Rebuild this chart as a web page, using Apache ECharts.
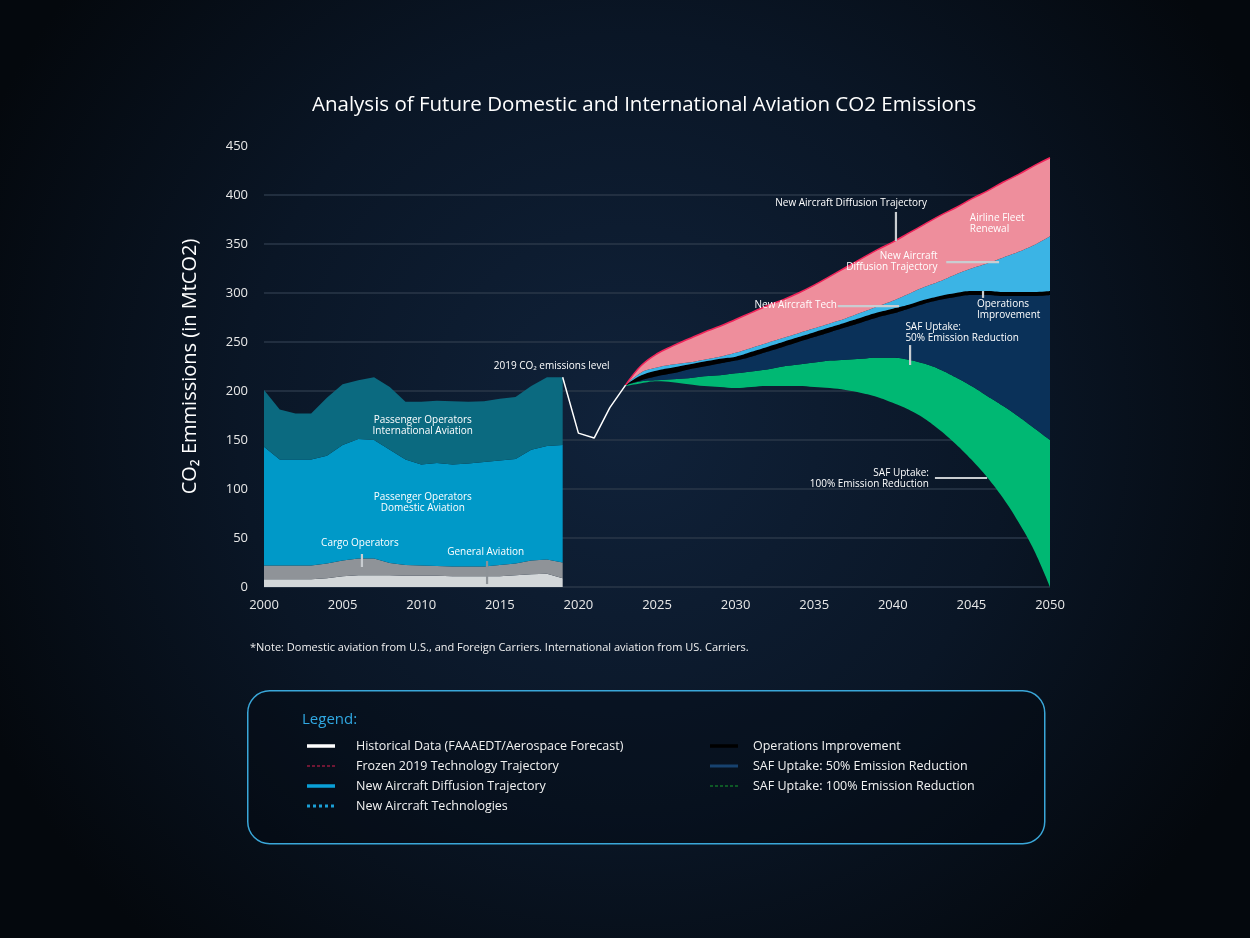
<!DOCTYPE html>
<html>
<head>
<meta charset="utf-8">
<script src="https://cdn.jsdelivr.net/npm/echarts@6/dist/echarts.min.js"></script>
<style>
html,body{margin:0;padding:0;background:#060b12;}
#chart{width:1250px;height:938px;}
</style>
</head>
<body>
<div id="chart"></div>
<script>
// ---------- DATA ----------
const histYears = [2000,2001,2002,2003,2004,2005,2006,2007,2008,2009,2010,2011,2012,2013,2014,2015,2016,2017,2018,2019];
const generalAviation = [8,8,8,8,9,11,12,12,12,11.5,11.5,11.5,11,11,11,11,12,13,13.5,9];
const cargoOperators  = [14,14,14,14,15,16,17,17,12.5,11,10.5,10,10,10,10,11.5,12,14,14.5,16];
const domesticPassenger = [121,108,108,108,110,118,122,121,115.5,107.5,103,105,104,105,106.5,106.5,106.5,113,116,120];
const internationalPassenger = [58,51,47,47,59,62,60,64,64,59,64,63.5,64.5,63,62,63,63.5,65,70,69];

const histLineYears = [2019,2020,2021,2022,2023];
const histLineValues = [214,157,152,183,206];

const fcYears = [2023,2024,2025,2026,2027,2028,2029,2030,2031,2032,2033,2034,2035,2036,2037,2038,2039,2040,2041,2042,2043,2044,2045,2046,2047,2048,2049,2050];
// upper boundaries of each forecast band (MtCO2)
const frozenTop    = [206,226,238,246,253,260,266,273,280,287,293,300,308,317,326,335,344,352,361,370,379,387,396,404,413,421,430,438];
const diffusionTop = [206,219,224,227,229,232,235,239,244,249,254,259,264,269,274,280,286,292,299,306,312,319,325,330,336,342,349,358];
const operationsTop= [206,216,221,224,227,230,233,235,240,245,250,255,260,265,270,275,280,284,288,293,297,300,302,302,301,301,301,302];
const saf50Top     = [206,211,215,218,222,225,228,231,235,240,245,250,255,260,265,270,275,279,284,289,293,296,298,298,297,297,297,298];
const saf100Top    = [206,210,211,212,213,215,216,218,220,222,225,227,229,231,232,233,234,234,232,228,222,214,205,195,185,174,162,150];
const saf100Bottom = [205,208,210,209,207,205,204,203,204,205,205,205,204,203,201,198,194,188,181,172,160,146,130,112,91,66,37,0];

const allYears = [];
for (let y = 2000; y <= 2050; y++) allYears.push(String(y));
const yTicks = [0,50,100,150,200,250,300,350,400,450];

// ---------- helpers ----------
const FONT = "'Open Sans', 'DejaVu Sans', sans-serif";
// place a series (years, values) onto the full category list
function place(years, vals){
  return allYears.map(c => { const i = years.indexOf(+c); return i >= 0 ? vals[i] : '-'; });
}
function diff(top, bottom){ return top.map((v,i)=>+(v - bottom[i]).toFixed(2)); }

const chart = echarts.init(document.getElementById('chart'), null, {renderer:'canvas'});

const histStack = (name, vals, color) => ({
  name, type:'line', stack:'hist', data: place(histYears, vals),
  symbol:'none', lineStyle:{width:0}, areaStyle:{color:color, opacity:1}, itemStyle:{color:color}, z:2, silent:true
});
const fcSmooth = 0.4;
const fcStack = (name, vals, color, extra) => Object.assign({
  name, type:'line', stack:'fc', data: place(fcYears, vals), smooth:fcSmooth,
  symbol:'none', lineStyle:{width:0}, itemStyle:{color:color},
  areaStyle:{color:color, opacity: name==='base' ? 0 : 1}, z:3, silent:true
}, extra || {});

const option = {
  backgroundColor: {
    type:'radial', x:0.5, y:0.45, r:0.75,
    colorStops:[{offset:0,color:'#10223a'},{offset:0.55,color:'#0a1626'},{offset:1,color:'#04080d'}]
  },
  animation:false,
  title:{
    text:'Analysis of Future Domestic and International Aviation CO2 Emissions',
    left:307, top:90,
    textStyle:{color:'#ffffff', fontSize:20.5, fontWeight:'normal', fontFamily:FONT}
  },
  grid:{left:264, right:200, top:146, bottom:351, containLabel:false},
  xAxis:{
    type:'category', data: allYears, boundaryGap:false,
    axisLine:{show:false}, axisTick:{show:false}, splitLine:{show:false},
    axisLabel:{color:'#e8e8e8', fontSize:13, fontFamily:FONT, margin:12, interval:4}
  },
  yAxis:{
    type:'value', min:yTicks[0], max:yTicks[yTicks.length-1], interval:50,
    name:'CO₂ Emmissions (in MtCO2)', nameLocation:'middle', nameGap:64, nameRotate:90,
    nameTextStyle:{color:'#ffffff', fontSize:20, fontFamily:FONT},
    axisLine:{show:false}, axisTick:{show:false},
    axisLabel:{color:'#e8e8e8', fontSize:13, fontFamily:FONT, margin:16},
    splitLine:{show:true, showMaxLine:false, lineStyle:{color:'#2a3748', width:1.5}}
  },
  series:[
    histStack('General Aviation', generalAviation, '#d3d7d9'),
    histStack('Cargo Operators', cargoOperators, '#8f9398'),
    histStack('Passenger Operators Domestic Aviation', domesticPassenger, '#0099c8'),
    histStack('Passenger Operators International Aviation', internationalPassenger, '#0b6a80'),
    {
      name:'Historical Data', type:'line', data: place(histLineYears, histLineValues),
      symbol:'none', lineStyle:{color:'#ffffff', width:1.5}, z:5, silent:true
    },
    fcStack('base', saf100Bottom, '#000000'),
    fcStack('SAF Uptake: 100% Emission Reduction', diff(saf100Top, saf100Bottom), '#00b873'),
    fcStack('SAF Uptake: 50% Emission Reduction', diff(saf50Top, saf100Top), '#0a3159'),
    fcStack('Operations Improvement', diff(operationsTop, saf50Top), '#000000'),
    fcStack('New Aircraft Diffusion Trajectory', diff(diffusionTop, operationsTop), '#3bb4e5'),
    fcStack('Frozen 2019 Technology Trajectory', diff(frozenTop, diffusionTop), '#ee8e9c',
      {lineStyle:{width:1.5, color:'#f0245a'}})
  ]
};
chart.setOption(option);

// ---------- annotations (anchored in data coordinates: [year, MtCO2]) ----------
const annotations = [
  {text:'Passenger Operators\nInternational Aviation', at:[2010.1,164.5], align:'center'},
  {text:'Passenger Operators\nDomestic Aviation', at:[2010.1,86.5], align:'center'},
  {text:'Cargo Operators', at:[2006.1,44.9], align:'center'},
  {text:'General Aviation', at:[2014.1,35.7], align:'center'},
  {text:'2019 CO₂ emissions level', at:[2018.3,225.5], align:'center'},
  {text:'New Aircraft Diffusion Trajectory', at:[2037.35,391.8], align:'center'},
  {text:'New Aircraft\nDiffusion Trajectory', at:[2042.85,331.6], align:'right'},
  {text:'Airline Fleet\nRenewal', at:[2044.9,370.4], align:'left'},
  {text:'New Aircraft Tech', at:[2036.45,287.8], align:'right'},
  {text:'Operations\nImprovement', at:[2045.35,282.5], align:'left'},
  {text:'SAF Uptake:\n50% Emission Reduction', at:[2040.8,259.2], align:'left'},
  {text:'SAF Uptake:\n100% Emission Reduction', at:[2042.3,110.2], align:'right'}
];
const pointers = [
  {from:[2006.23,33.7], to:[2006.23,20.4], color:'#c9cdd1'},
  {from:[2014.19,26.5], to:[2014.19,3], color:'#8d9297'},
  {from:[2040.2,382.7], to:[2040.2,353], color:'#c9cdd1'},
  {from:[2043.4,331.6], to:[2046.76,331.6], color:'#c9cdd1'},
  {from:[2036.5,286.7], to:[2040.4,286.7], color:'#c9cdd1'},
  {from:[2045.74,302], to:[2045.74,295], color:'#c9cdd1'},
  {from:[2041.1,246.9], to:[2041.1,226.5], color:'#c9cdd1'},
  {from:[2042.68,111.2], to:[2046.0,111.2], color:'#c9cdd1'}
];
function px(p){
  const a = chart.convertToPixel({gridIndex:0}, ['2000', p[1]]);
  const b = chart.convertToPixel({gridIndex:0}, ['2050', p[1]]);
  return [a[0] + (b[0]-a[0]) * (p[0]-2000)/50, a[1]];
}

const graphics = [];
annotations.forEach(a=>{
  const p = px(a.at);
  graphics.push({type:'text', x:p[0], y:p[1], z:20, silent:true,
    style:{text:a.text, fill:'#ffffff', font:"10px "+FONT, align:a.align, verticalAlign:'middle', lineHeight:11}});
});
pointers.forEach(l=>{
  const a = px(l.from), b = px(l.to);
  graphics.push({type:'line', z:19, silent:true,
    shape:{x1:a[0], y1:a[1], x2:b[0], y2:b[1]}, style:{stroke:l.color, lineWidth:2.2}});
});

// note
graphics.push({type:'text', left:250, top:642, silent:true,
  style:{text:'*Note: Domestic aviation from U.S., and Foreign Carriers. International aviation from US. Carriers.',
    fill:'#f0f0f0', font:"11px "+FONT}});

// legend box
graphics.push({type:'rect', left:247, top:690, silent:true, z:10,
  shape:{width:797, height:153, r:22}, style:{fill:'rgba(4,10,18,0.35)', stroke:'#3aa7d9', lineWidth:1.5}});
graphics.push({type:'text', left:302, top:712, silent:true, z:11,
  style:{text:'Legend:', fill:'#30a8e2', font:"15px "+FONT}});

const legendItems = [
  {label:'Historical Data (FAAAEDT/Aerospace Forecast)', col:0, row:0, color:'#ffffff', width:3.5, dash:null},
  {label:'Frozen 2019 Technology Trajectory', col:0, row:1, color:'#d8204f', width:1.2, dash:[3,2]},
  {label:'New Aircraft Diffusion Trajectory', col:0, row:2, color:'#0aa0d8', width:3.5, dash:null},
  {label:'New Aircraft Technologies', col:0, row:3, color:'#1b9fd6', width:3, dash:[3,3]},
  {label:'Operations Improvement', col:1, row:0, color:'#000000', width:3.5, dash:null},
  {label:'SAF Uptake: 50% Emission Reduction', col:1, row:1, color:'#17426f', width:3, dash:null},
  {label:'SAF Uptake: 100% Emission Reduction', col:1, row:2, color:'#16a02e', width:1.2, dash:[3,2]}
];
legendItems.forEach(it=>{
  const sx = it.col===0 ? 307 : 710;
  const tx = it.col===0 ? 356 : 753;
  const y = 746 + it.row*20;
  graphics.push({type:'line', silent:true, z:11,
    shape:{x1:sx, y1:y, x2:sx+28, y2:y},
    style:{stroke:it.color, lineWidth:it.width, lineDash:it.dash || null}});
  graphics.push({type:'text', x:tx, y:y, silent:true, z:11,
    style:{text:it.label, fill:'#f2f2f2', font:"12.5px "+FONT, verticalAlign:'middle'}});
});

chart.setOption({graphic:graphics});
</script>
</body>
</html>
